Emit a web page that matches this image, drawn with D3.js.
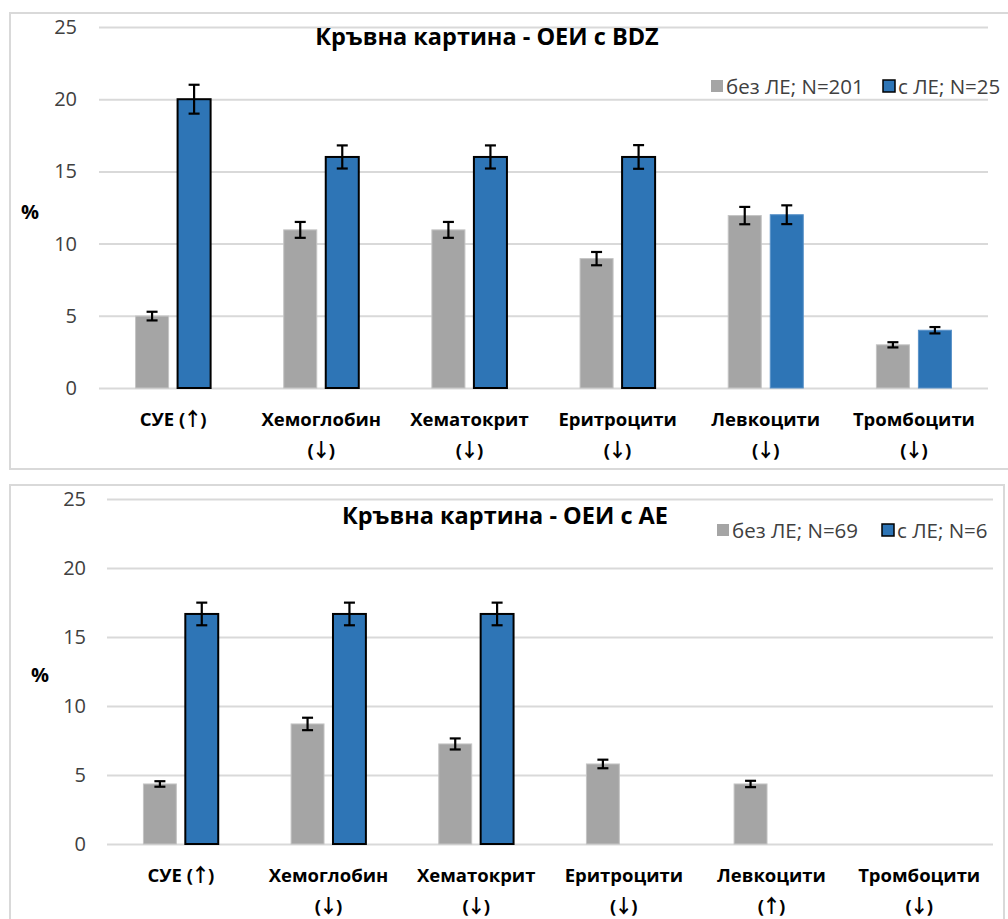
<!DOCTYPE html>
<html>
<head>
<meta charset="utf-8">
<script src="https://cdn.jsdelivr.net/npm/d3@7/dist/d3.min.js"></script>
<style>
  html, body { margin: 0; padding: 0; background: #ffffff; }
  svg { display: block; font-family: "Open Sans", "Noto Sans", sans-serif; }
</style>
</head>
<body>
<svg id="chart" width="1008" height="919"></svg>
<script>
// Category labels (second line after "\n")
const bdzCategories = ["СУЕ (↑)", "Хемоглобин\n(↓)", "Хематокрит\n(↓)", "Еритроцити\n(↓)", "Левкоцити\n(↓)", "Тромбоцити\n(↓)"];
const aeCategories  = ["СУЕ (↑)", "Хемоглобин\n(↓)", "Хематокрит\n(↓)", "Еритроцити\n(↓)", "Левкоцити\n(↑)", "Тромбоцити\n(↓)"];

const yTickValues = [0, 5, 10, 15, 20, 25];

// ОЕИ с BDZ: percentages and error margins
const bdzSeriesNames = ["без ЛЕ; N=201", "с ЛЕ; N=25"];
const bdzWithout     = [4.98, 10.95, 10.95, 8.96, 11.94, 2.99];
const bdzWithoutErr  = [0.30, 0.55, 0.55, 0.46, 0.60, 0.18];
const bdzWith        = [20, 16, 16, 16, 12, 4];
const bdzWithErr     = [1.00, 0.80, 0.80, 0.82, 0.65, 0.22];
const bdzSignificant = [1, 1, 1, 1, 0, 0];

// ОЕИ с АЕ: percentages and error margins
const aeSeriesNames = ["без ЛЕ; N=69", "с ЛЕ; N=6"];
const aeWithout     = [4.35, 8.70, 7.25, 5.80, 4.35, 0];
const aeWithoutErr  = [0.20, 0.45, 0.40, 0.31, 0.23, 0];
const aeWith        = [16.67, 16.67, 16.67, 0, 0, 0];
const aeWithErr     = [0.82, 0.82, 0.82, 0, 0, 0];
const aeSignificant = [1, 1, 1, 0, 0, 0];

const GRAY = "#a5a5a5";
const BLUE = "#2e75b6";
const GRID = "#d9d9d9";
const TEXT = "#404040";

const svg = d3.select("#chart");

// writes a label line, putting arrow glyphs in a font that draws them full height
function writeLine(textSel, str, x, y) {
  const parts = str.split(/([↑↓])/).filter(p => p.length);
  parts.forEach((p, k) => {
    const ts = textSel.append("tspan").text(p);
    if (k === 0) ts.attr("x", x).attr("y", y);
    if (p === "↑" || p === "↓") {
      ts.style("font-family", "'Noto Sans CJK JP', 'Noto Sans CJK SC', sans-serif")
        .attr("font-weight", "bold").attr("font-size", 19)
        .attr("dx", -2);
    } else if (k > 0) {
      ts.attr("dx", -2);
    }
  });
}

function drawPanel(opt) {
  const g = svg.append("g");

  // outer frame
  g.append("rect")
    .attr("x", opt.frame[0]).attr("y", opt.frame[1])
    .attr("width", opt.frame[2]).attr("height", opt.frame[3])
    .attr("fill", "#fff").attr("stroke", GRID).attr("stroke-width", 2);

  const [left, top, right, bottom] = opt.plot;

  const y = d3.scaleLinear().domain([0, 25]).range([bottom, top]);
  const x0 = d3.scaleBand().domain(d3.range(opt.categories.length)).range([left, right]);
  const x1 = d3.scaleBand().domain([0, 1]).range([0, x0.bandwidth()])
    .paddingInner(0.214).paddingOuter(0.87);

  // gridlines + y tick labels
  const yAxis = d3.axisLeft(y).tickValues(yTickValues)
    .tickSize(-(right - left)).tickPadding(opt.tickPad).tickFormat(d3.format("d"));
  const ya = g.append("g").attr("transform", `translate(${left},0)`).call(yAxis);
  ya.select(".domain").remove();
  ya.selectAll(".tick line").attr("stroke", GRID).attr("stroke-width", 2);
  ya.selectAll(".tick text").attr("fill", TEXT).style("font-size", "20px")
    .style("font-family", "'Open Sans', sans-serif");

  // "%" axis label
  g.append("text").attr("x", opt.pctPos[0]).attr("y", opt.pctPos[1])
    .attr("text-anchor", "middle").attr("dominant-baseline", "central")
    .attr("font-weight", "bold").attr("font-size", 20).attr("fill", "#000").text("%");

  // bars
  const series = [
    { vals: opt.without, errs: opt.withoutErr, color: GRAY, idx: 0 },
    { vals: opt.with, errs: opt.withErr, color: BLUE, idx: 1 }
  ];

  series.forEach(s => {
    const sg = g.append("g");
    sg.selectAll("rect").data(s.vals.map((v, i) => ({ v, i })).filter(d => d.v > 0))
      .join("rect")
      .attr("x", d => x0(d.i) + x1(s.idx))
      .attr("y", d => y(d.v))
      .attr("width", x1.bandwidth())
      .attr("height", d => y(0) - y(d.v))
      .attr("fill", s.color)
      .attr("stroke", d => (s.idx === 1 && opt.significant[d.i]) ? "#000" : (s.idx === 0 ? "#c4c4c4" : "#5a92c8"))
      .attr("stroke-width", d => (s.idx === 1 && opt.significant[d.i]) ? 2 : 1);

    // error bars
    const eg = sg.append("g").attr("stroke", "#000").attr("stroke-width", 2.2);
    s.vals.forEach((v, i) => {
      const e = s.errs[i];
      if (!(v > 0) || !(e > 0)) return;
      const cx = x0(i) + x1(s.idx) + x1.bandwidth() / 2;
      eg.append("line").attr("x1", cx).attr("x2", cx).attr("y1", y(v + e)).attr("y2", y(v - e));
      [v + e, v - e].forEach(t => {
        eg.append("line").attr("x1", cx - 5.5).attr("x2", cx + 5.5).attr("y1", y(t)).attr("y2", y(t));
      });
    });
  });

  // category labels
  opt.categories.forEach((c, i) => {
    const cx = x0(i) + x0.bandwidth() / 2;
    c.split("\n").forEach((ln, k) => {
      const t = g.append("text").attr("text-anchor", "middle")
        .attr("font-weight", "bold").attr("font-size", 18.5).attr("fill", "#000");
      writeLine(t, ln, cx, opt.labelY + k * 31);
    });
  });

  // title
  g.append("text").attr("x", opt.titlePos[0]).attr("y", opt.titlePos[1])
    .attr("text-anchor", "middle").attr("font-weight", "bold")
    .attr("font-size", 23.5).attr("fill", "#000").text(opt.title);

  // legend
  const colors = [GRAY, BLUE];
  opt.seriesNames.forEach((name, k) => {
    const lx = opt.legendX[k], ly = opt.legendY;
    g.append("rect").attr("x", lx).attr("y", ly - 6).attr("width", 12).attr("height", 12)
      .attr("fill", colors[k]).attr("stroke", k === 1 ? "#000" : "none").attr("stroke-width", 1.5);
    g.append("text").attr("x", lx + 15).attr("y", ly).attr("dominant-baseline", "central")
      .attr("font-size", 20.5).attr("fill", TEXT).text(name);
  });
}

drawPanel({
  frame: [10, 13, 1010, 456],
  plot: [99, 27, 988, 388],
  tickPad: 22,
  pctPos: [30, 211],
  categories: bdzCategories,
  without: bdzWithout, withoutErr: bdzWithoutErr,
  with: bdzWith, withErr: bdzWithErr,
  significant: bdzSignificant,
  labelY: 426,
  title: "Кръвна картина - ОЕИ с BDZ",
  titlePos: [487, 45],
  seriesNames: bdzSeriesNames,
  legendX: [711, 883],
  legendY: 86
});

drawPanel({
  frame: [10, 485, 994, 450],
  plot: [107, 499, 993, 844],
  tickPad: 21,
  pctPos: [40, 674],
  categories: aeCategories,
  without: aeWithout, withoutErr: aeWithoutErr,
  with: aeWith, withErr: aeWithErr,
  significant: aeSignificant,
  labelY: 882,
  title: "Кръвна картина - ОЕИ с АЕ",
  titlePos: [505, 524],
  seriesNames: aeSeriesNames,
  legendX: [717, 882],
  legendY: 530
});
</script>
</body>
</html>
